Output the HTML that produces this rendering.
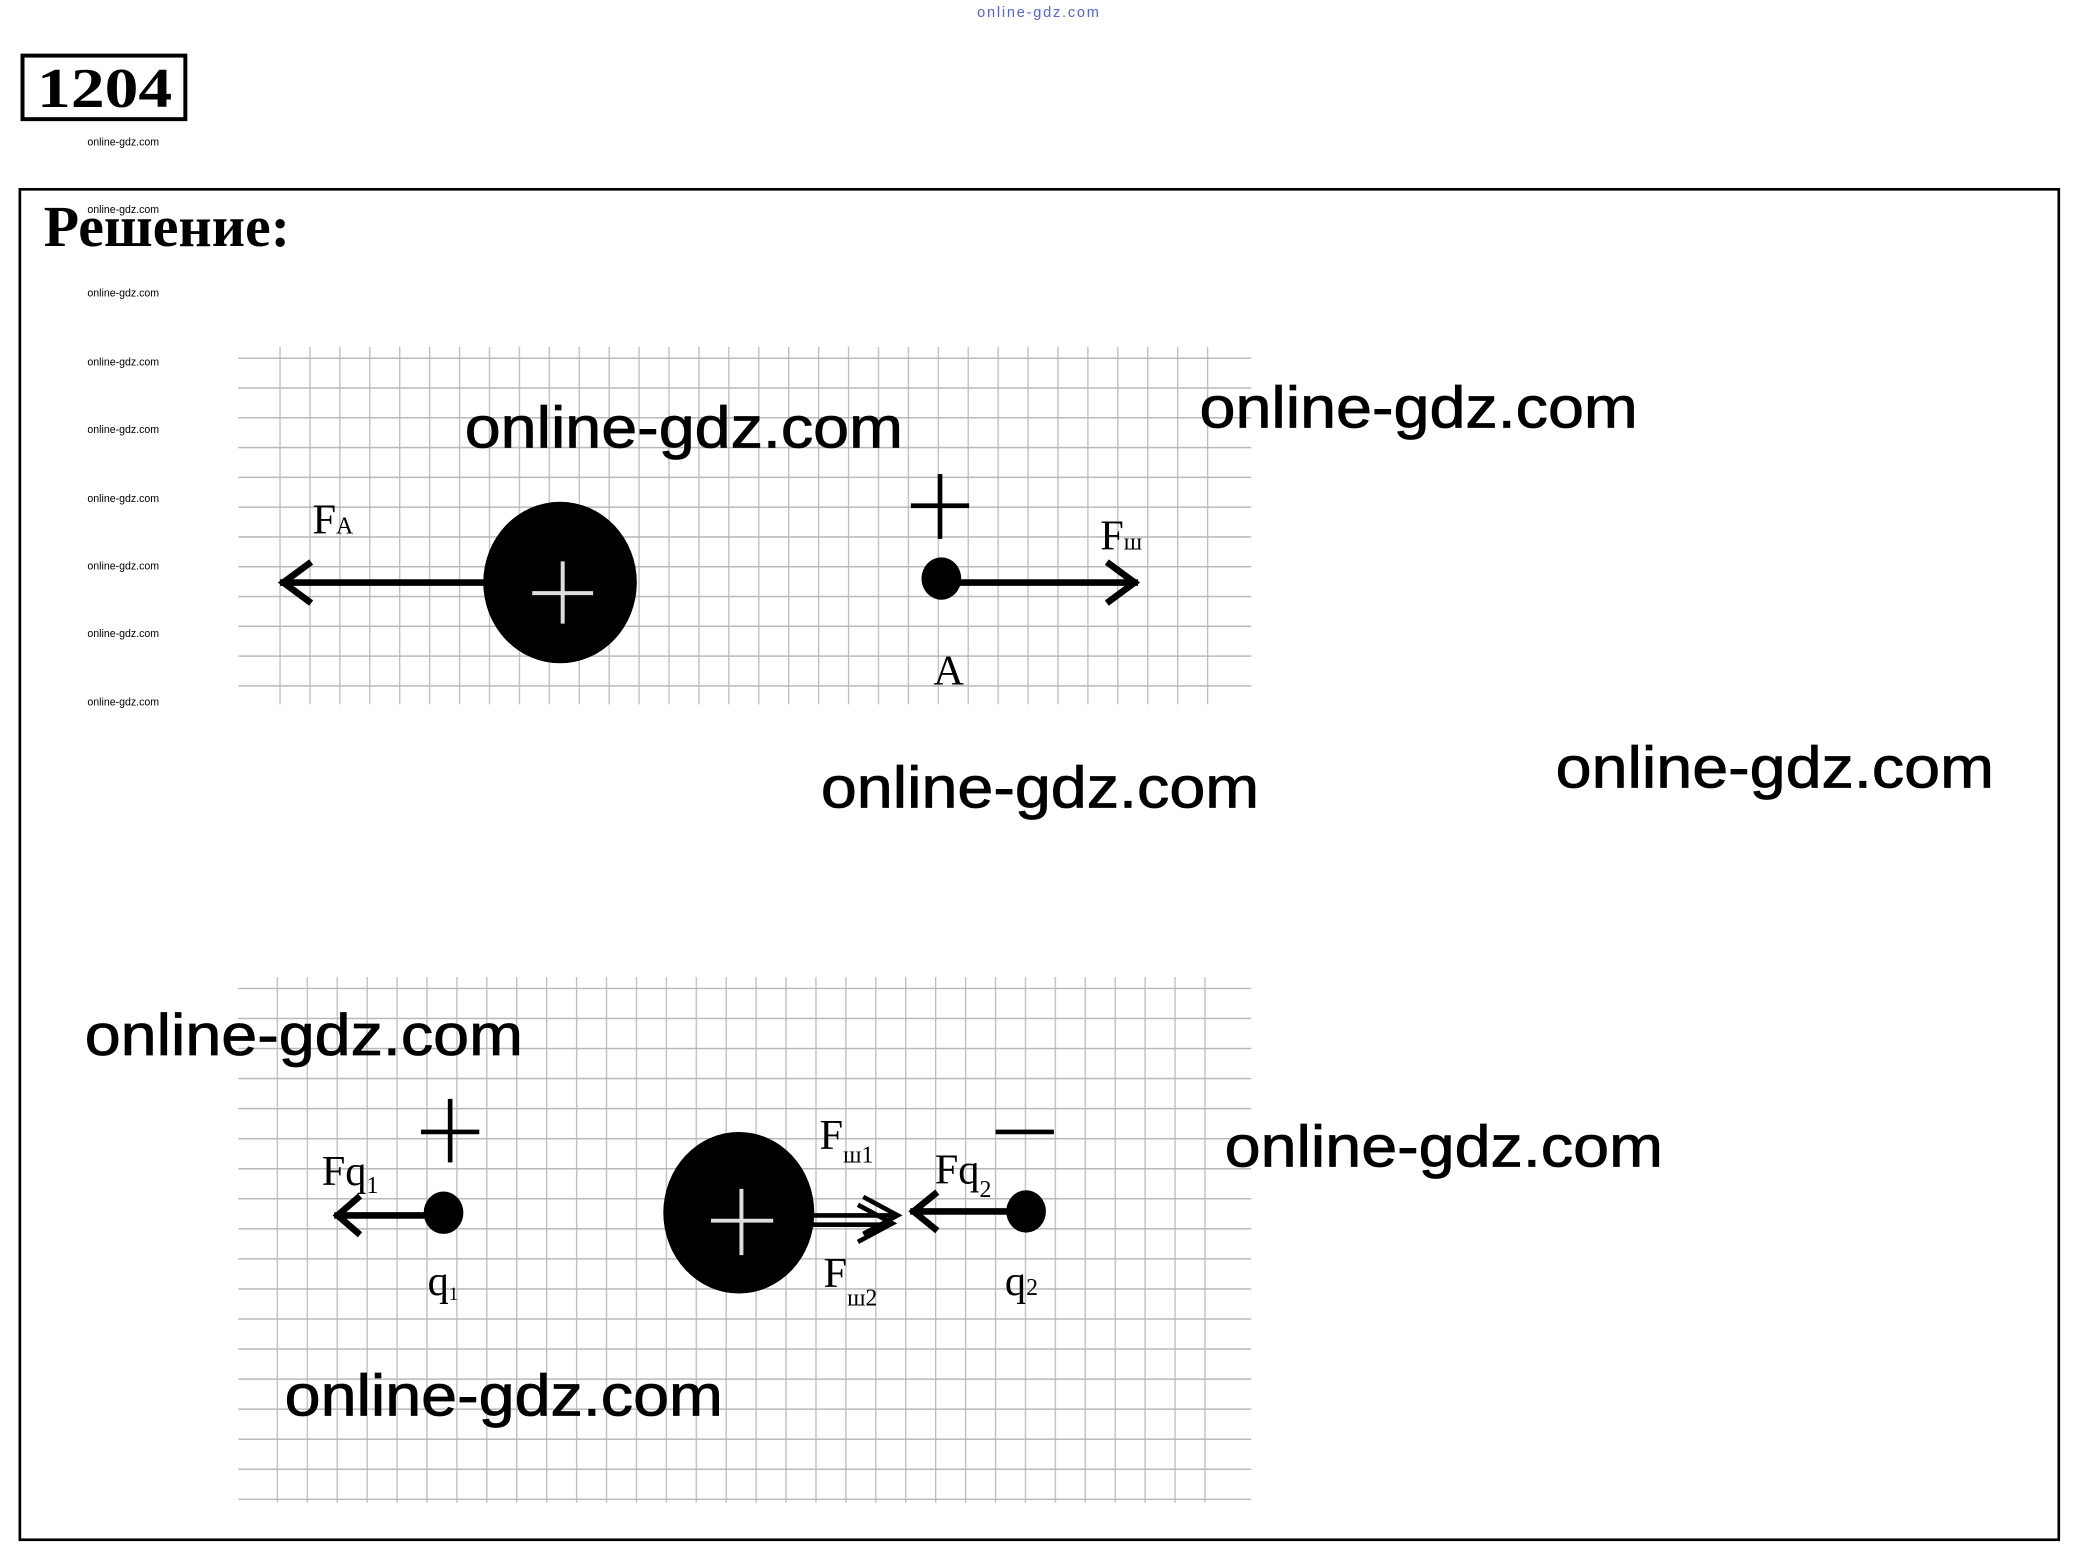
<!DOCTYPE html>
<html><head><meta charset="utf-8"><style>
html,body{margin:0;padding:0;background:#fff;}
svg{display:block;}
</style></head><body>
<svg width="2076" height="1553" viewBox="0 0 1568 1173" preserveAspectRatio="none" xmlns="http://www.w3.org/2000/svg">
<defs>
<pattern id="pv1" x="211" y="0" width="22.6" height="10" patternUnits="userSpaceOnUse"><line x1="0.5" y1="0" x2="0.5" y2="10" stroke="#bdbdbd" stroke-width="1"/></pattern>
<pattern id="ph1" x="0" y="270" width="10" height="22.5" patternUnits="userSpaceOnUse"><line x1="0" y1="0.5" x2="10" y2="0.5" stroke="#b8b8b8" stroke-width="1.2"/></pattern>
<pattern id="pv2" x="209" y="0" width="22.6" height="10" patternUnits="userSpaceOnUse"><line x1="0.5" y1="0" x2="0.5" y2="10" stroke="#bdbdbd" stroke-width="1"/></pattern>
<pattern id="ph2" x="0" y="746" width="10" height="22.7" patternUnits="userSpaceOnUse"><line x1="0" y1="0.5" x2="10" y2="0.5" stroke="#b8b8b8" stroke-width="1.2"/></pattern>
</defs>
<rect width="1568" height="1173" fill="#fff"/>
<text x="738" y="13" font-family="Liberation Sans, sans-serif" font-size="11" fill="#5566cc" textLength="92">online-gdz.com</text>
<rect x="17" y="42" width="123" height="48" fill="none" stroke="#000" stroke-width="3"/>
<text x="28" y="81" font-family="Liberation Serif, serif" font-weight="bold" font-size="42" textLength="102" lengthAdjust="spacingAndGlyphs">1204</text>
<g font-family="Liberation Sans, sans-serif" font-size="8" fill="#000">
<text x="66" y="110">online-gdz.com</text>
<text x="66" y="161">online-gdz.com</text>
<text x="66" y="224">online-gdz.com</text>
<text x="66" y="276">online-gdz.com</text>
<text x="66" y="327">online-gdz.com</text>
<text x="66" y="379">online-gdz.com</text>
<text x="66" y="430">online-gdz.com</text>
<text x="66" y="481">online-gdz.com</text>
<text x="66" y="533">online-gdz.com</text>
</g>
<rect x="15" y="143" width="1540" height="1020" fill="none" stroke="#000" stroke-width="2"/>
<text x="33" y="186" font-family="Liberation Serif, serif" font-weight="bold" font-size="44" textLength="186" lengthAdjust="spacingAndGlyphs">Решение:</text>
<rect x="209" y="262" width="708" height="270" fill="url(#pv1)"/>
<rect x="180" y="270" width="765" height="252" fill="url(#ph1)"/>
<rect x="207" y="738" width="712" height="397" fill="url(#pv2)"/>
<rect x="180" y="746" width="765" height="390" fill="url(#ph2)"/>
<g stroke="#000" stroke-width="5" fill="none" stroke-linecap="square">
<line x1="365" y1="440" x2="214" y2="440"/>
<polyline points="233,426 214,440 233,454"/>
<line x1="711" y1="440" x2="857" y2="440"/>
<polyline points="838,426 857,440 838,454"/>
</g>
<ellipse cx="423" cy="440" rx="58" ry="61" fill="#000"/>
<g stroke="#ddd" stroke-width="3"><line x1="425" y1="424" x2="425" y2="471"/><line x1="402" y1="448" x2="448" y2="448"/></g>
<ellipse cx="711" cy="437" rx="15" ry="16" fill="#000"/>
<g stroke="#000" stroke-width="3.5"><line x1="710" y1="358" x2="710" y2="407"/><line x1="688" y1="382" x2="732" y2="382"/></g>
<g font-family="Liberation Serif, serif" font-size="32" fill="#000">
<text x="236" y="403">F<tspan font-size="18">A</tspan></text>
<text x="831" y="415">F<tspan font-size="18">ш</tspan></text>
<text x="705" y="517">A</text>
</g>
<g stroke="#000" stroke-width="5" fill="none" stroke-linecap="square">
<line x1="322" y1="918" x2="255" y2="918"/>
<polyline points="270,905 255,918 270,931"/>
<line x1="760" y1="915" x2="690" y2="915"/>
<polyline points="706,902 690,915 706,928"/>
</g>
<g stroke="#000" stroke-width="3.5" fill="none">
<line x1="612" y1="918" x2="676" y2="918"/>
<line x1="612" y1="925" x2="672" y2="925"/>
<polyline points="652,904 678,918 652,932"/>
<polyline points="648,910 674,924 648,938"/>
</g>
<ellipse cx="558" cy="916" rx="57" ry="61" fill="#000"/>
<g stroke="#ddd" stroke-width="3"><line x1="560" y1="898" x2="560" y2="948"/><line x1="537" y1="922" x2="584" y2="922"/></g>
<ellipse cx="335" cy="916" rx="15" ry="16" fill="#000"/>
<ellipse cx="775" cy="915" rx="15" ry="16" fill="#000"/>
<g stroke="#000" stroke-width="3.5"><line x1="340" y1="830" x2="340" y2="878"/><line x1="318" y1="855" x2="362" y2="855"/><line x1="752" y1="855" x2="796" y2="855"/></g>
<g font-family="Liberation Serif, serif" font-size="32" fill="#000">
<text x="243" y="895">Fq<tspan font-size="18" dy="6">1</tspan></text>
<text x="323" y="978">q<tspan font-size="14" dy="4">1</tspan></text>
<text x="619" y="868">F<tspan font-size="18" dy="10">ш1</tspan></text>
<text x="706" y="894">Fq<tspan font-size="18" dy="10">2</tspan></text>
<text x="622" y="972">F<tspan font-size="18" dy="14">ш2</tspan></text>
<text x="759" y="978">q<tspan font-size="18" dy="0">2</tspan></text>
</g>
<g font-family="Liberation Sans, sans-serif" font-size="44" fill="#000" stroke="#000" stroke-width="0.6">
<text x="351" y="338" textLength="331" lengthAdjust="spacingAndGlyphs">online-gdz.com</text>
<text x="906" y="323" textLength="331" lengthAdjust="spacingAndGlyphs">online-gdz.com</text>
<text x="620" y="610" textLength="331" lengthAdjust="spacingAndGlyphs">online-gdz.com</text>
<text x="1175" y="595" textLength="331" lengthAdjust="spacingAndGlyphs">online-gdz.com</text>
<text x="64" y="797" textLength="331" lengthAdjust="spacingAndGlyphs">online-gdz.com</text>
<text x="925" y="881" textLength="331" lengthAdjust="spacingAndGlyphs">online-gdz.com</text>
<text x="215" y="1069" textLength="331" lengthAdjust="spacingAndGlyphs">online-gdz.com</text>
</g>
</svg>
</body></html>
